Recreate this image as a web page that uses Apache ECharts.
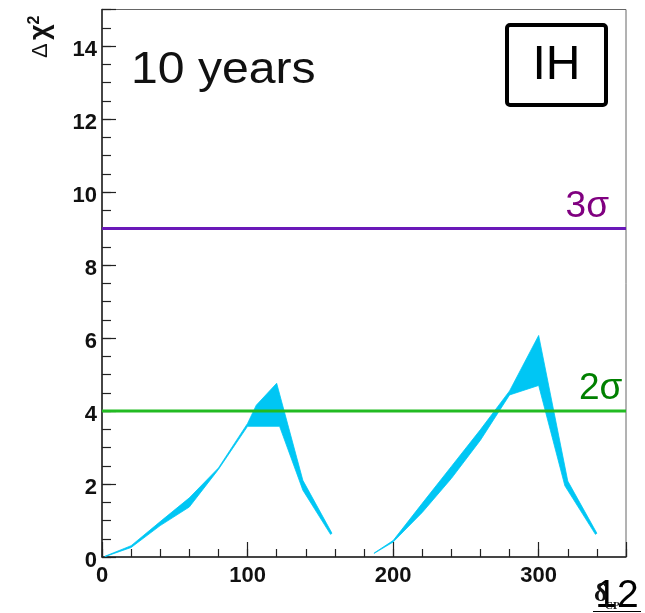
<!DOCTYPE html>
<html>
<head>
<meta charset="utf-8">
<script src="https://cdn.jsdelivr.net/npm/echarts@6/dist/echarts.min.js"></script>
<style>
  html, body { margin: 0; padding: 0; background: #fff; }
  #chart { width: 645px; height: 613px; }
</style>
</head>
<body>
<div id="chart"></div>
<script>
// Δχ² sensitivity band versus δCP (degrees), inverted hierarchy, 10 years of data.
// Each band is an upper and a lower edge given as [δCP, Δχ²] pairs.
const leftUpper  = [[2, 0.02], [20, 0.31], [40, 0.97], [60, 1.62], [80, 2.44], [100, 3.66], [106, 4.16], [120, 4.76], [138, 2.10], [158, 0.65]];
const leftLower  = [[2, 0.01], [20, 0.26], [40, 0.86], [60, 1.37], [80, 2.40], [100, 3.58], [122, 3.58], [138, 1.83], [157, 0.62]];
const rightUpper = [[187, 0.11], [200, 0.45], [220, 1.47], [240, 2.48], [260, 3.49], [280, 4.55], [300, 6.07], [320, 2.08], [340, 0.65]];
const rightLower = [[187, 0.10], [200, 0.41], [220, 1.22], [240, 2.15], [260, 3.20], [280, 4.44], [300, 4.70], [318, 1.95], [339, 0.62]];

// Significance thresholds
const threeSigma = 9;
const twoSigma = 4;

// Axis ranges and tick labels
const xRange = [0, 360];
const yRange = [0, 15];
const xTickLabels = [0, 100, 200, 300];
const yTickLabels = [0, 2, 4, 6, 8, 10, 12, 14];

const bands = [
  { upper: leftUpper, lower: leftLower },
  { upper: rightUpper, lower: rightLower }
];

const BAND = '#00c6f4';
const PURPLE_LINE = '#6a18b8';
const PURPLE_TEXT = '#800080';
const GREEN_LINE = '#22bb22';
const GREEN_TEXT = '#008000';
const FONT = '"Liberation Sans", Arial, sans-serif';

const chart = echarts.init(document.getElementById('chart'), null, { renderer: 'canvas' });

const axisCommon = { lineStyle: { color: '#222', width: 1.5 } };

chart.setOption({
  animation: false,
  backgroundColor: '#fff',
  grid: {
    left: 102, right: 19, top: 9.5, bottom: 56,
    show: true, borderColor: '#666', borderWidth: 1, backgroundColor: 'transparent'
  },
  xAxis: [
    {
      type: 'value', min: xRange[0], max: xRange[1], interval: 20, position: 'bottom',
      axisLine: { show: true, onZero: false, ...axisCommon },
      axisTick: { show: true, inside: true, length: 8, lineStyle: { color: '#222', width: 1.2 } },
      axisLabel: {
        show: true, margin: 8, color: '#111', fontSize: 22, fontWeight: 'bold', fontFamily: FONT,
        formatter: v => (xTickLabels.indexOf(v) >= 0 ? String(v) : '')
      },
      splitLine: { show: false }
    },
    {
      type: 'value', min: xRange[0], max: xRange[1], interval: 100, position: 'bottom',
      axisLine: { show: false, onZero: false },
      axisTick: { show: true, inside: true, length: 15, lineStyle: { color: '#222', width: 1.2 } },
      axisLabel: { show: false },
      splitLine: { show: false }
    }
  ],
  yAxis: [
    {
      type: 'value', min: yRange[0], max: yRange[1], interval: 0.5, position: 'left',
      axisLine: { show: true, onZero: false, ...axisCommon },
      axisTick: { show: true, inside: true, length: 9, lineStyle: { color: '#222', width: 1.2 } },
      axisLabel: {
        show: true, margin: 5, color: '#111', fontSize: 22, fontWeight: 'bold', fontFamily: FONT,
        verticalAlign: 'top', lineHeight: 7,
        formatter: v => (yTickLabels.indexOf(v) >= 0 ? String(v) : '')
      },
      splitLine: { show: false }
    },
    {
      type: 'value', min: yRange[0], max: yRange[1], interval: 2, position: 'left',
      axisLine: { show: false, onZero: false },
      axisTick: { show: true, inside: true, length: 14, lineStyle: { color: '#222', width: 1.2 } },
      axisLabel: { show: false },
      splitLine: { show: false }
    }
  ],
  series: [
    {
      type: 'custom',
      xAxisIndex: 0, yAxisIndex: 0,
      z: 2,
      data: bands.map(b => b.upper[0]),
      renderItem: (params, api) => {
        const b = bands[params.dataIndex];
        const pts = b.upper.concat(b.lower.slice().reverse()).map(p => api.coord(p));
        return {
          type: 'polygon',
          shape: { points: pts },
          style: { fill: BAND, stroke: BAND, lineWidth: 0.8 }
        };
      }
    },
    {
      type: 'line', xAxisIndex: 0, yAxisIndex: 0, z: 5,
      symbol: 'none', silent: true,
      data: [[xRange[0], threeSigma], [xRange[1], threeSigma]],
      lineStyle: { color: PURPLE_LINE, width: 3 }
    },
    {
      type: 'line', xAxisIndex: 0, yAxisIndex: 0, z: 5,
      symbol: 'none', silent: true,
      data: [[xRange[0], twoSigma], [xRange[1], twoSigma]],
      lineStyle: { color: GREEN_LINE, width: 3 }
    }
  ],
  graphic: [
    {
      type: 'text', x: 131, y: 71, z: 10, scaleX: 1.07,
      style: { text: '10 years', font: '45px ' + FONT, fill: '#111', align: 'left', verticalAlign: 'middle' }
    },
    {
      type: 'rect', z: 10,
      shape: { x: 507, y: 25, width: 99, height: 80, r: 3 },
      style: { fill: 'none', stroke: '#000', lineWidth: 4 }
    },
    {
      type: 'text', z: 10, x: 556.5, y: 66,
      style: { text: 'IH', font: '48px ' + FONT, fill: '#000', align: 'center', verticalAlign: 'middle' }
    },
    {
      type: 'text', z: 10, x: 609, y: 207,
      style: { text: '3σ', font: '37px ' + FONT, fill: PURPLE_TEXT, align: 'right', verticalAlign: 'middle' }
    },
    {
      type: 'text', z: 10, x: 579, y: 389,
      style: { text: '2σ', font: '37px ' + FONT, fill: GREEN_TEXT, align: 'left', verticalAlign: 'middle' }
    },
    {
      type: 'text', z: 10, x: 41, y: 58, rotation: Math.PI / 2,
      style: {
        text: '{d|Δ} {c|χ}{s|2}',
        align: 'left', verticalAlign: 'middle',
        rich: {
          d: { font: '22px ' + FONT, fill: '#111' },
          c: { font: 'bold 27px ' + FONT, fill: '#111' },
          s: { font: 'bold 16px ' + FONT, fill: '#111', verticalAlign: 'top', padding: [0, 0, 13, 0] }
        }
      }
    },
    {
      type: 'text', z: 11, x: 617, y: 596,
      style: { text: '12', font: '39px ' + FONT, fill: '#000', align: 'center', verticalAlign: 'middle' }
    },
    {
      type: 'text', z: 12, x: 594, y: 594,
      style: { text: 'δ', font: 'bold 26px "Liberation Serif", serif', fill: '#111', align: 'left', verticalAlign: 'middle' }
    },
    {
      type: 'text', z: 12, x: 605, y: 606,
      style: { text: 'CP', font: 'bold 11px "Liberation Serif", serif', fill: '#111', align: 'left', verticalAlign: 'middle' }
    },
    {
      type: 'line', z: 10,
      shape: { x1: 593, y1: 611.5, x2: 641, y2: 611.5 },
      style: { stroke: '#000', lineWidth: 1 }
    }
  ]
});
</script>
</body>
</html>
